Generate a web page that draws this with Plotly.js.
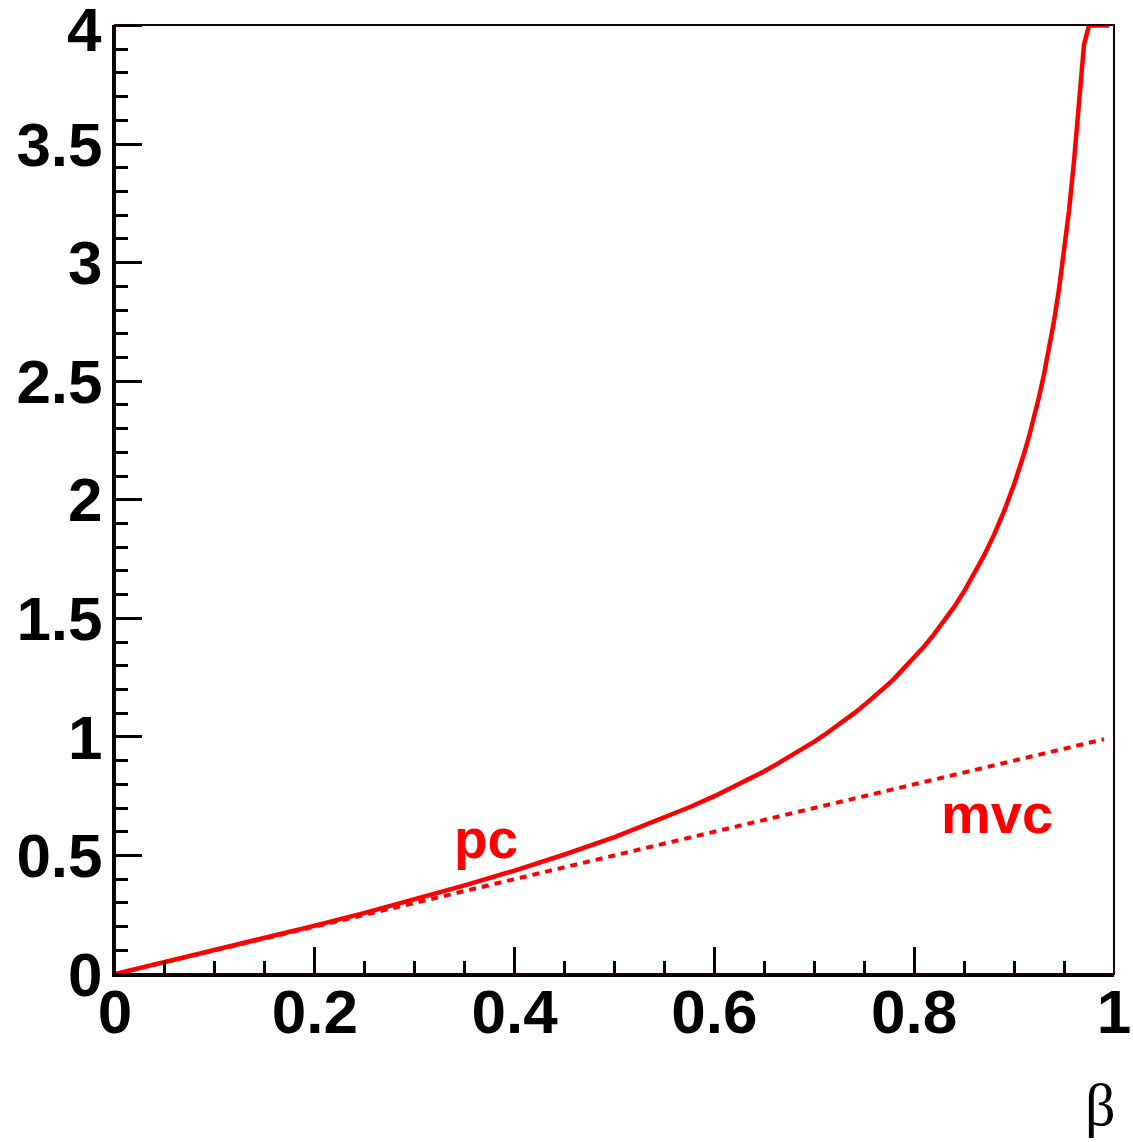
<!DOCTYPE html>
<html>
<head>
<meta charset="utf-8">
<script src="https://cdn.plot.ly/plotly-3.0.1.min.js"></script>
<style>html,body{margin:0;padding:0;background:#fff;}</style>
</head>
<body>
<div id="chart" style="width:1133px;height:1142px;"></div>
<script>
// beta values and curves
const betaPc = [0, 0.05, 0.1, 0.15, 0.2, 0.25, 0.3, 0.35, 0.4, 0.45, 0.5, 0.55, 0.575, 0.6, 0.625, 0.65, 0.66, 0.67, 0.68, 0.69, 0.7, 0.71, 0.72, 0.73, 0.74, 0.75, 0.76, 0.77, 0.78, 0.79, 0.8, 0.81, 0.82, 0.83, 0.84, 0.85, 0.86, 0.87, 0.88, 0.89, 0.9, 0.905, 0.91, 0.915, 0.92, 0.925, 0.93, 0.935, 0.94, 0.945, 0.95, 0.955, 0.96, 0.965, 0.97, 0.975, 0.98, 0.985, 0.99, 0.995];
const pcValues = [0, 0.050, 0.100, 0.152, 0.204, 0.258, 0.315, 0.374, 0.436, 0.504, 0.577, 0.659, 0.703, 0.750, 0.801, 0.855, 0.879, 0.903, 0.927, 0.953, 0.980, 1.008, 1.038, 1.068, 1.100, 1.134, 1.169, 1.207, 1.246, 1.289, 1.333, 1.381, 1.433, 1.488, 1.548, 1.614, 1.685, 1.765, 1.853, 1.952, 2.065, 2.127, 2.195, 2.268, 2.347, 2.434, 2.530, 2.636, 2.755, 2.889, 3.043, 3.220, 3.429, 3.680, 3.920, 4.0, 4.0, 4.0, 4.0, 4.0];
const betaMvc = [0, 0.2, 0.4, 0.6, 0.8, 0.99];
const mvcValues = [0, 0.2, 0.4, 0.6, 0.8, 0.99];
const xTickVals = [0, 0.2, 0.4, 0.6, 0.8, 1];
const xTickText = ["0", "0.2", "0.4", "0.6", "0.8", "1"];
const yTickVals = [0, 0.5, 1, 1.5, 2, 2.5, 3, 3.5, 4];
const yTickText = ["0", "0.5", "1", "1.5", "2", "2.5", "3", "3.5", "4"];
const labelPc = {text: "pc", x: 0.371, y: 0.57};
const labelMvc = {text: "mvc", x: 0.883, y: 0.675};
const xTitle = "β";

const red = "#ff0000";
const traces = [
  {x: betaPc, y: pcValues, mode: "lines", line: {color: red, width: 4.5}, hoverinfo: "skip"},
  {x: betaMvc, y: mvcValues, mode: "lines", line: {color: red, width: 4, dash: "7px,6px"}, hoverinfo: "skip"}
];

const tickFont = {family: "Liberation Sans, Arial, sans-serif", size: 62, color: "#000", weight: 700};
const yMax = yTickVals[yTickVals.length - 1];
const layout = {
  width: 1133, height: 1142,
  margin: {l: 115, r: 19, t: 25, b: 168, pad: 0},
  paper_bgcolor: "#fff", plot_bgcolor: "#fff",
  showlegend: false,
  xaxis: {
    range: [0, 1], showgrid: false, zeroline: false,
    showline: true, linecolor: "#000", linewidth: 3,
    ticks: "inside", ticklen: 27, tickwidth: 3, tickcolor: "#000",
    tickvals: xTickVals, ticktext: xTickText, tickfont: tickFont,
    ticklabelstandoff: -18,
    minor: {dtick: 0.05, ticks: "inside", ticklen: 13, tickwidth: 3, tickcolor: "#000", showgrid: false}
  },
  yaxis: {
    range: [0, 4.002], showgrid: false, zeroline: false,
    showline: true, linecolor: "#000", linewidth: 3,
    ticks: "inside", ticklen: 27, tickwidth: 3, tickcolor: "#000",
    tickvals: yTickVals, ticktext: yTickText, tickfont: tickFont,
    ticklabelstandoff: -3,
    minor: {dtick: 0.1, ticks: "inside", ticklen: 13, tickwidth: 3, tickcolor: "#000", showgrid: false}
  },
  shapes: [
    {type: "rect", xref: "paper", yref: "paper", x0: 0, x1: 1, y0: 0, y1: 1, line: {color: "#1a0000", width: 2}, layer: "above"},
    {type: "line", xref: "paper", yref: "y", x0: 0, x1: 0.027, y0: yMax, y1: yMax, line: {color: "#000", width: 3}, layer: "above"}
  ],
  annotations: [
    // top tick label (Plotly drops it because it overflows the page edge)
    {text: yTickText[yTickText.length - 1], x: 0, y: yMax, xref: "paper", yref: "y", showarrow: false,
     xanchor: "right", yanchor: "middle", xshift: -11, yshift: -4,
     font: tickFont},
    {text: labelPc.text, x: labelPc.x, y: labelPc.y, xref: "x", yref: "y", showarrow: false, xanchor: "center", yanchor: "middle",
     font: {family: "Liberation Sans, Arial, sans-serif", size: 55, color: red, weight: 700}},
    {text: labelMvc.text, x: labelMvc.x, y: labelMvc.y, xref: "x", yref: "y", showarrow: false, xanchor: "center", yanchor: "middle",
     font: {family: "Liberation Sans, Arial, sans-serif", size: 56, color: red, weight: 700}},
    {text: xTitle, x: 0.986, y: -0.138, xref: "paper", yref: "paper", showarrow: false, xanchor: "center", yanchor: "middle",
     font: {family: "Liberation Serif, Times New Roman, serif", size: 60, color: "#000"}}
  ]
};
Plotly.newPlot("chart", traces, layout, {staticPlot: true, displayModeBar: false});
</script>
</body>
</html>
